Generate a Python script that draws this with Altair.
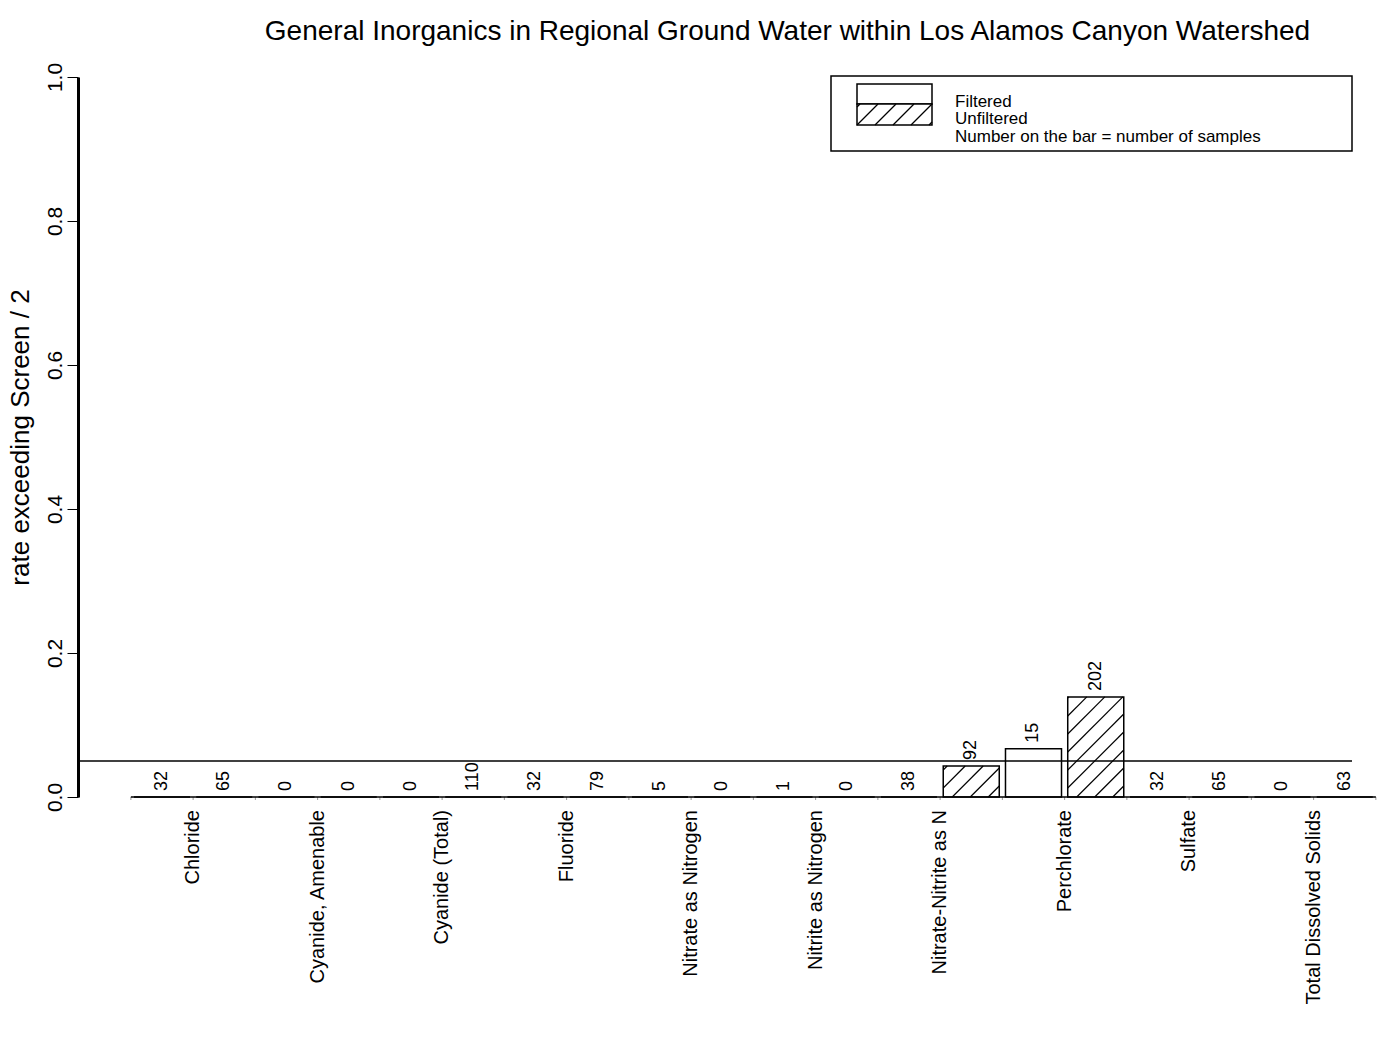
import math
import altair as alt
import pandas as pd

# ---------------- data ----------------
categories = [
    "Chloride", "Cyanide, Amenable", "Cyanide (Total)", "Fluoride",
    "Nitrate as Nitrogen", "Nitrite as Nitrogen", "Nitrate-Nitrite as N",
    "Perchlorate", "Sulfate", "Total Dissolved Solids",
]
filtered_rate = [0, 0, 0, 0, 0, 0, 0, 0.067, 0, 0]
unfiltered_rate = [0, 0, 0, 0, 0, 0, 0.043, 0.139, 0, 0]
filtered_n = [32, 0, 0, 32, 5, 1, 38, 15, 32, 0]
unfiltered_n = [65, 0, 110, 79, 0, 0, 92, 202, 65, 63]
threshold = 0.05
y_ticks = [0.0, 0.2, 0.4, 0.6, 0.8, 1.0]
title_text = "General Inorganics in Regional Ground Water within Los Alamos Canyon Watershed"
y_title = "rate exceeding Screen / 2"
legend_labels = ["Filtered", "Unfiltered", "Number on the bar = number of samples"]

# ---------------- layout ----------------
FONT = "Liberation Sans"
W, H = 1274, 720
XMIN, XMAX = -1.3494, 19.1165
PX_PER_X = W / (XMAX - XMIN)
BAR_HALF = 0.45
HATCH_STEP = 18.0

xscale = alt.Scale(domain=[XMIN, XMAX], nice=False, zero=False)
yscale = alt.Scale(domain=[0, 1], nice=False, zero=False)


def hatch_segments(w, h, phase, step):
    segs = []
    c = phase - step * math.ceil((phase + h) / step)
    while c < w:
        xa, xb = max(0.0, c), min(w, c + h)
        if xb > xa:
            segs.append((xa, xa - c, xb, xb - c))
        c += step
    return segs


rows = []
for k, cat in enumerate(categories):
    pairs = [("Filtered", filtered_rate[k], filtered_n[k]),
             ("Unfiltered", unfiltered_rate[k], unfiltered_n[k])]
    for j, (kind, rate, n) in enumerate(pairs):
        idx = 2 * k + j
        rows.append(dict(category=cat, kind=kind, idx=idx, x0=idx - BAR_HALF,
                         x1=idx + BAR_HALF, rate=rate, zero=0.0, n=str(n)))
bars = pd.DataFrame(rows)

hatch_rows = []
bar_w_px = 2 * BAR_HALF * PX_PER_X
for _, r in bars.iterrows():
    if r["kind"] == "Unfiltered" and r["rate"] > 0:
        for xa, ya, xb, yb in hatch_segments(bar_w_px, r["rate"] * H, 9.0, HATCH_STEP):
            hatch_rows.append(dict(hx=r["x0"] + xa / PX_PER_X, hy=ya / H,
                                   hx2=r["x0"] + xb / PX_PER_X, hy2=yb / H))

# legend swatch hatch (pixel geometry converted to data units)
SW_L, SW_B, SW_W, SW_H = 779.0, 48.0, 75.0, 21.0
for xa, ya, xb, yb in hatch_segments(SW_W, SW_H, 0.0, HATCH_STEP):
    hatch_rows.append(dict(hx=XMIN + (SW_L + xa) / PX_PER_X, hy=1 - (SW_B - ya) / H,
                           hx2=XMIN + (SW_L + xb) / PX_PER_X, hy2=1 - (SW_B - yb) / H))
hatch = pd.DataFrame(hatch_rows)

cats = pd.DataFrame(dict(category=categories,
                         cx=[2 * k + 0.5 for k in range(len(categories))],
                         zero=[0.0] * len(categories)))
ticks = pd.DataFrame(dict(tx=[i - 0.5 for i in range(2 * len(categories) + 1)],
                          zero=[0.0] * (2 * len(categories) + 1)))
thr = pd.DataFrame(dict(t=[threshold]))
base_line = pd.DataFrame(dict(bx=[-0.5], bx2=[2 * len(categories) - 0.5], zero=[0.0]))
one = pd.DataFrame(dict(k=[0]))

yaxis = alt.Axis(
    values=y_ticks, format=".1f", labelAngle=270, labelAlign="center",
    labelBaseline="bottom", labelFontSize=21, labelFont=FONT, labelColor="black",
    labelPadding=2, tickSize=11, tickColor="black", tickWidth=1,
    domainColor="black", domainWidth=3, grid=False,
    title=y_title, titleFont=FONT, titleFontSize=26, titleFontWeight="normal",
    titleColor="black", titleX=-58, titleY=360, titleAngle=270,
    titleAlign="center", titleBaseline="middle",
)


def Y(field):
    return alt.Y(field, scale=yscale, axis=yaxis)


def X(field):
    return alt.X(field, scale=xscale, axis=None)


bar_layer = alt.Chart(bars).mark_rect(fill="white", stroke="black", strokeWidth=1.5).encode(
    x=X("x0:Q"), x2="x1:Q", y=Y("rate:Q"), y2="zero:Q",
)

hatch_layer = alt.Chart(hatch).mark_rule(stroke="black", strokeWidth=1.2).encode(
    x=X("hx:Q"), x2="hx2:Q", y=Y("hy:Q"), y2="hy2:Q",
)

thr_layer = alt.Chart(thr).mark_rule(stroke="black", strokeWidth=1.5).encode(
    y=Y("t:Q"), x=alt.value(0), x2=alt.value(W),
)

baseline_layer = alt.Chart(base_line).mark_rule(stroke="black", strokeWidth=1.5).encode(
    x=X("bx:Q"), x2="bx2:Q", y=Y("zero:Q"),
)

tick_layer = alt.Chart(ticks).mark_rule(stroke="#999999", strokeWidth=1).encode(
    x=X("tx:Q"), y=Y("zero:Q"), y2=alt.value(H + 3),
)

num_layer = alt.Chart(bars).mark_text(
    angle=270, align="left", baseline="middle", dx=6, fontSize=18, font=FONT, color="black"
).encode(x=X("idx:Q"), y=Y("rate:Q"), text="n:N")

cat_layer = alt.Chart(cats).mark_text(
    angle=270, align="right", baseline="middle", dx=-13, fontSize=20, font=FONT, color="black"
).encode(x=X("cx:Q"), y=Y("zero:Q"), text="category:N")

title_layer = alt.Chart(one).mark_text(
    align="center", baseline="alphabetic", fontSize=28, font=FONT, color="black",
    text=title_text,
).encode(x=alt.value(709.5), y=alt.value(-37))

legend_box = alt.Chart(one).mark_rect(fill="white", stroke="black", strokeWidth=1.5).encode(
    x=alt.value(753), x2=alt.value(W), y=alt.value(-1), y2=alt.value(74)
)
sw_filtered = alt.Chart(one).mark_rect(fill="white", stroke="black", strokeWidth=1.5).encode(
    x=alt.value(SW_L), x2=alt.value(SW_L + SW_W), y=alt.value(7), y2=alt.value(27)
)
sw_unfiltered = alt.Chart(one).mark_rect(fill="white", stroke="black", strokeWidth=1.5).encode(
    x=alt.value(SW_L), x2=alt.value(SW_L + SW_W), y=alt.value(27), y2=alt.value(SW_B)
)
legend_texts = []
for lbl, yy in zip(legend_labels, [29.7, 47.3, 64.7]):
    legend_texts.append(
        alt.Chart(one).mark_text(
            align="left", baseline="alphabetic", fontSize=17, font=FONT, color="black",
            text=lbl,
        ).encode(x=alt.value(877), y=alt.value(yy))
    )

chart = alt.layer(
    bar_layer, thr_layer, tick_layer, baseline_layer, num_layer, cat_layer,
    legend_box, sw_filtered, sw_unfiltered, hatch_layer, title_layer, *legend_texts,
).properties(
    width=W, height=H,
    autosize=alt.AutoSizeParams(type="none"),
    padding={"left": 78, "top": 77, "right": 31, "bottom": 240},
    background="white",
).configure(font=FONT, view=alt.ViewConfig(stroke=None))

chart.save("out.html", embed_options={"renderer": "svg", "actions": False})
